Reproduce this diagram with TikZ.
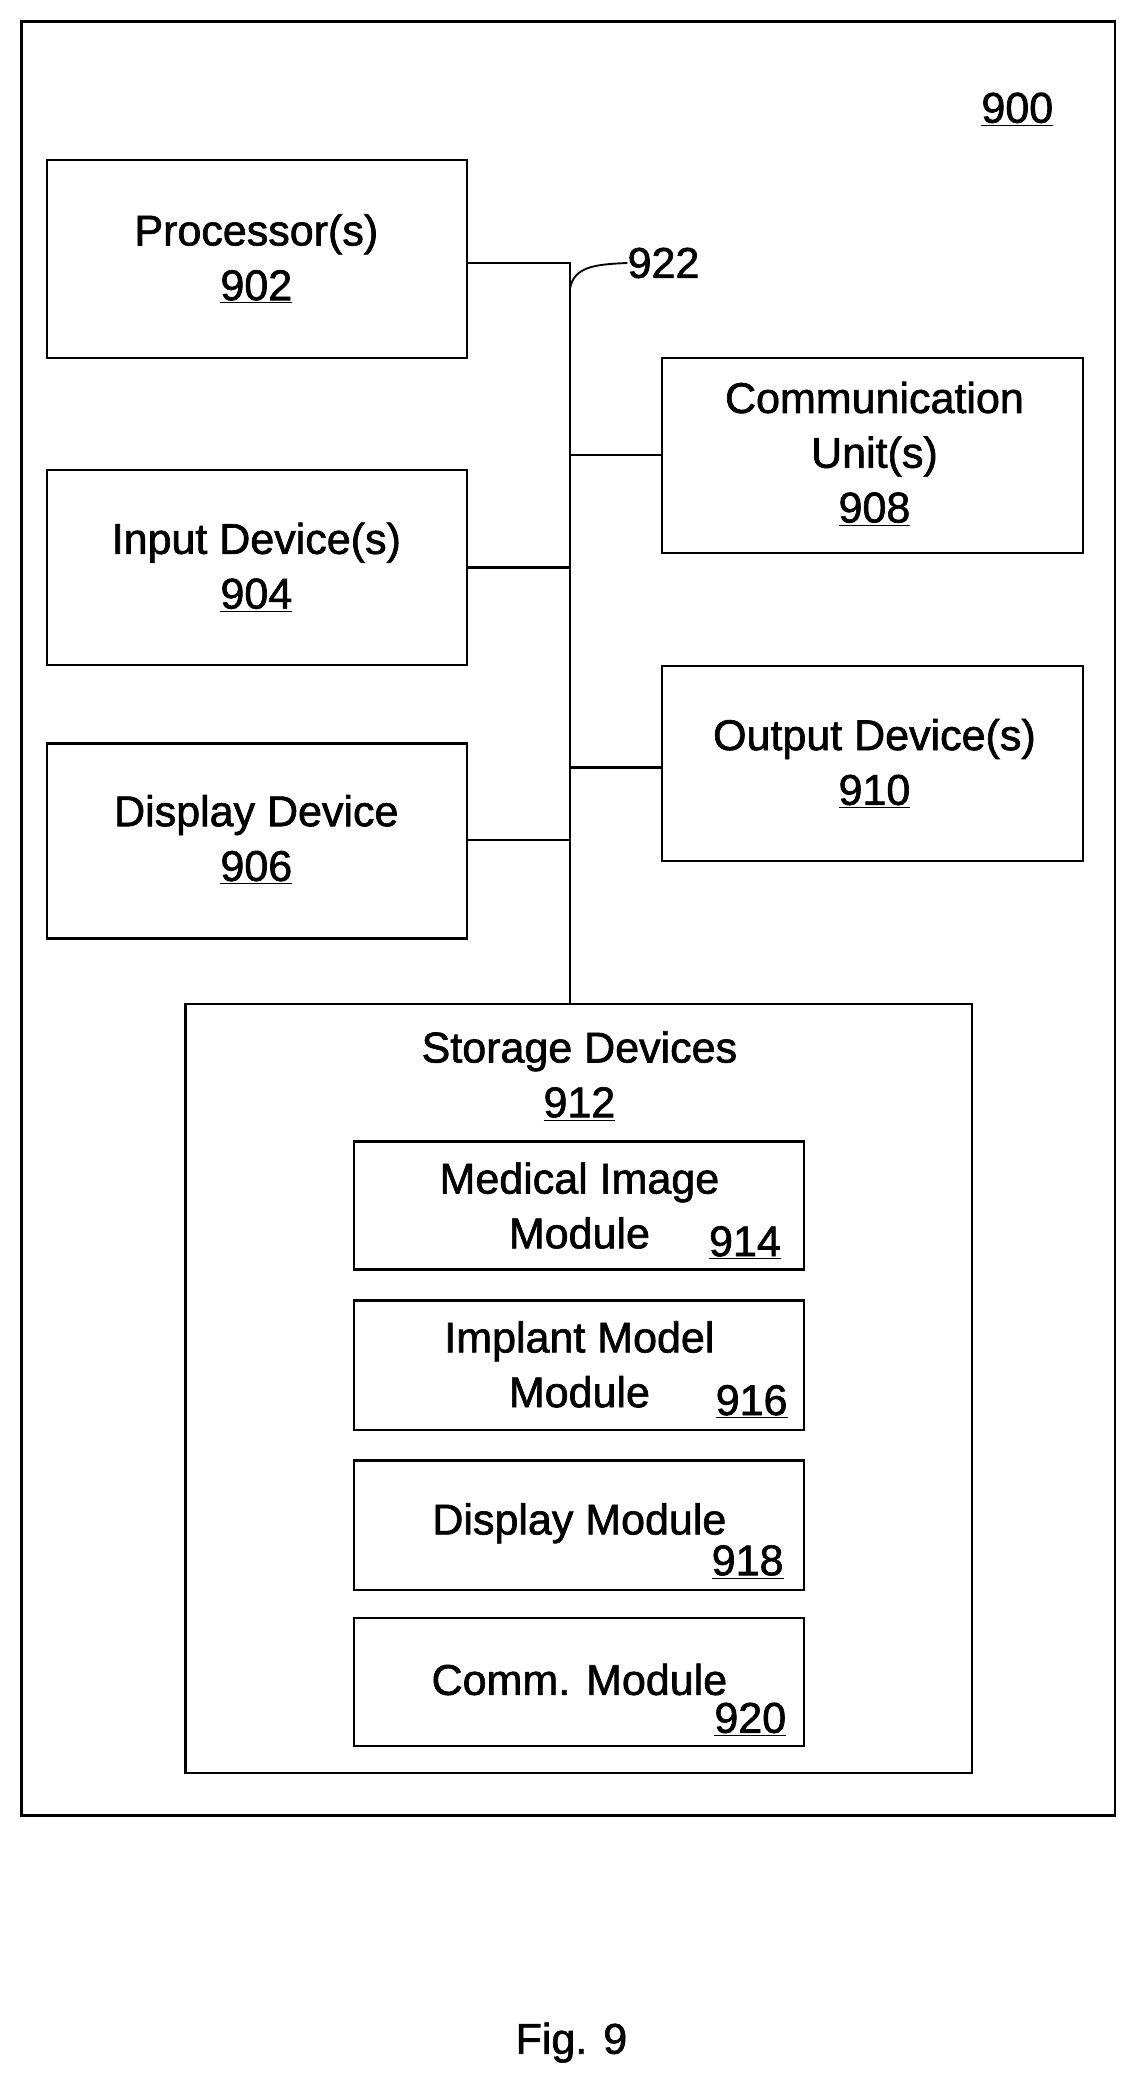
\documentclass[tikz,border=0pt]{standalone}
\usepackage{fontspec}
\setmainfont{Liberation Sans}[RawFeature={embolden=1.5}]
\begin{document}
\begin{tikzpicture}[x=0.03cm,y=-0.03cm,
 box/.style={draw,line width=1.5pt},
 ln/.style={line width=1.5pt},
 t/.style={font=\fontsize{27.5}{35}\selectfont,inner sep=0pt,align=center}]
\useasboundingbox (0,0) rectangle (853,1570);
\draw[box] (16,16) rectangle (835,1360);
\node[t] (l900) at (762,82) {\underline{900}};
\draw[box] (35,120) rectangle (350,268);
\node[t] (p) at (192,194) {Processor(s)\\\underline{902}};
\draw[box] (35,352) rectangle (350,498);
\node[t] (i) at (192,425) {Input Device(s)\\\underline{904}};
\draw[box] (35,557) rectangle (350,703);
\node[t] (d) at (192,629) {Display Device\\\underline{906}};
\draw[box] (496,268) rectangle (811,414);
\node[t] (c) at (655,340) {Communication\\Unit(s)\\\underline{908}};
\draw[box] (496,499) rectangle (811,645);
\node[t] (o) at (655,572) {Output Device(s)\\\underline{910}};
\coordinate (bt) at (427,197);
\coordinate (bb) at (427,752);
\draw[ln] (350,197) -- (bt) -- (bb);
\draw[ln] (427,341) -- (496,341);
\draw[ln] (350,425) -- (427,425);
\draw[ln] (427,575) -- (496,575);
\draw[ln] (350,629) -- (427,629);
\node[t] (l922) at (497,197) {922};
\draw[line width=1.2pt] (427,216) .. controls (430,200) and (445,198) .. (l922.west);
\draw[box] (139,752) rectangle (728,1328);
\node[t] (s) at (434,806) {Storage Devices\\\underline{912}};
\draw[box] (265,855) rectangle (602,951);
\node[t] at (434,903) {Medical Image\\Module};
\node[t] at (558,931) {\underline{914}};
\draw[box] (265,974) rectangle (602,1071);
\node[t] at (434,1022) {Implant Model\\Module};
\node[t] at (563,1050) {\underline{916}};
\draw[box] (265,1094) rectangle (602,1191);
\node[t] at (434,1141) {Display Module};
\node[t] at (560,1170) {\underline{918}};
\draw[box] (265,1212) rectangle (602,1308);
\node[t] at (434,1258) {Comm. Module};
\node[t] at (562,1288) {\underline{920}};
\node[t] (fig) at (428,1530) {Fig. 9};
\end{tikzpicture}
\end{document}
